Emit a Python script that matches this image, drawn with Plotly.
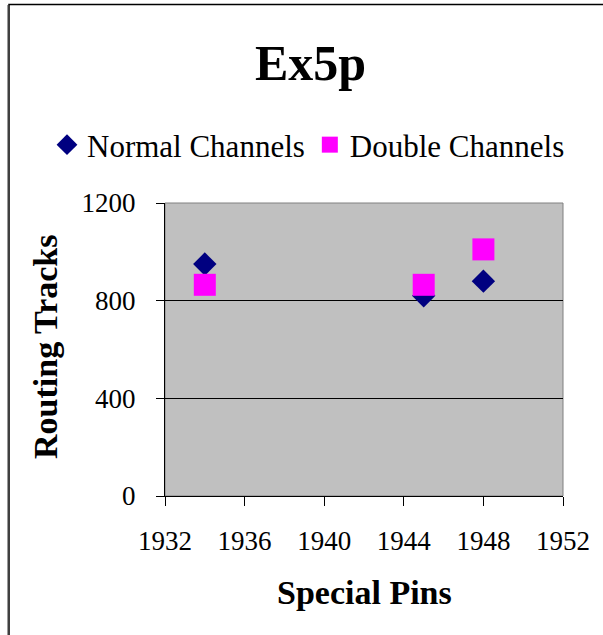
import plotly.graph_objects as go

# Routing tracks measured against the number of special pins
special_pins = [1934, 1945, 1948]
normal_channels = [950, 820, 880]
double_channels = [865, 865, 1010]

x_ticks = [1932, 1936, 1940, 1944, 1948, 1952]
y_ticks = [0, 400, 800, 1200]

SERIF = "Liberation Serif, Times New Roman, serif"

# plot area in pixels: left 165, right 563, top 203, bottom 496
L, R, T, B = 165, 563, 203, 496
W, H = 603, 635


def px_x(p):
    return (p - L) / (R - L)


def px_y(p):
    return (B - p) / (B - T)


fig = go.Figure()

fig.add_trace(go.Scatter(
    x=special_pins, y=normal_channels, mode="markers", name="Normal Channels",
    marker=dict(symbol="diamond", size=18, color="#000080", line=dict(width=0)),
))
fig.add_trace(go.Scatter(
    x=special_pins, y=double_channels, mode="markers", name="Double Channels",
    marker=dict(symbol="square", size=22, color="#FF00FF", line=dict(width=0)),
))

fig.update_layout(
    width=W, height=H,
    margin=dict(l=L, r=W - R, t=T, b=H - B, pad=0),
    paper_bgcolor="white",
    plot_bgcolor="#C0C0C0",
    font=dict(family=SERIF, color="black", size=27),
    showlegend=True,
    legend=dict(
        orientation="h", x=px_x(47), xanchor="left", y=px_y(145), yanchor="middle",
        font=dict(family=SERIF, size=31, color="black"),
        bgcolor="rgba(0,0,0,0)", borderwidth=0, itemwidth=30,
    ),
    xaxis=dict(
        range=[1932, 1952], tickvals=x_ticks, ticktext=[str(v) for v in x_ticks],
        showgrid=False, zeroline=False,
        showline=True, linecolor="black", linewidth=1,
        ticks="outside", ticklen=9, tickcolor="black", tickwidth=1,
        ticklabelstandoff=12,
        tickfont=dict(family=SERIF, size=27, color="black"),
    ),
    yaxis=dict(
        range=[0, 1200], tickvals=y_ticks, ticktext=[str(v) for v in y_ticks],
        showgrid=True, gridcolor="black", gridwidth=1, zeroline=False,
        showline=True, linecolor="black", linewidth=1,
        ticks="outside", ticklen=8, tickcolor="black", tickwidth=1,
        ticklabelstandoff=15,
        tickfont=dict(family=SERIF, size=27, color="black"),
    ),
    shapes=[
        # grey frame of the plot area (left/bottom covered by the axis lines)
        dict(type="rect", xref="paper", yref="paper", x0=0, x1=1, y0=0, y1=1,
             line=dict(color="#808080", width=1), fillcolor="rgba(0,0,0,0)", layer="below"),
        # soft shadow and outer border of the chart
        dict(type="line", xref="paper", yref="paper",
             x0=px_x(7.5), x1=px_x(7.5), y0=px_y(5), y1=px_y(645),
             line=dict(color="#9a9a9a", width=1)),
        dict(type="rect", xref="paper", yref="paper",
             x0=px_x(9), x1=px_x(620), y0=px_y(4.5), y1=px_y(660),
             line=dict(color="black", width=1.5), fillcolor="rgba(0,0,0,0)"),
    ],
    annotations=[
        dict(text="<b>Ex5p</b>", xref="paper", yref="paper", x=px_x(310), y=px_y(63),
             xanchor="center", yanchor="middle", showarrow=False,
             font=dict(family=SERIF, size=50, color="black")),
        dict(text="<b>Special Pins</b>", xref="paper", yref="paper", x=px_x(364), y=px_y(592),
             xanchor="center", yanchor="middle", showarrow=False,
             font=dict(family=SERIF, size=34, color="black")),
        dict(text="<b>Routing Tracks</b>", xref="paper", yref="paper", x=px_x(45), y=px_y(347),
             xanchor="center", yanchor="middle", showarrow=False, textangle=-90,
             font=dict(family=SERIF, size=34, color="black")),
    ],
)

fig.write_html("out.html")
